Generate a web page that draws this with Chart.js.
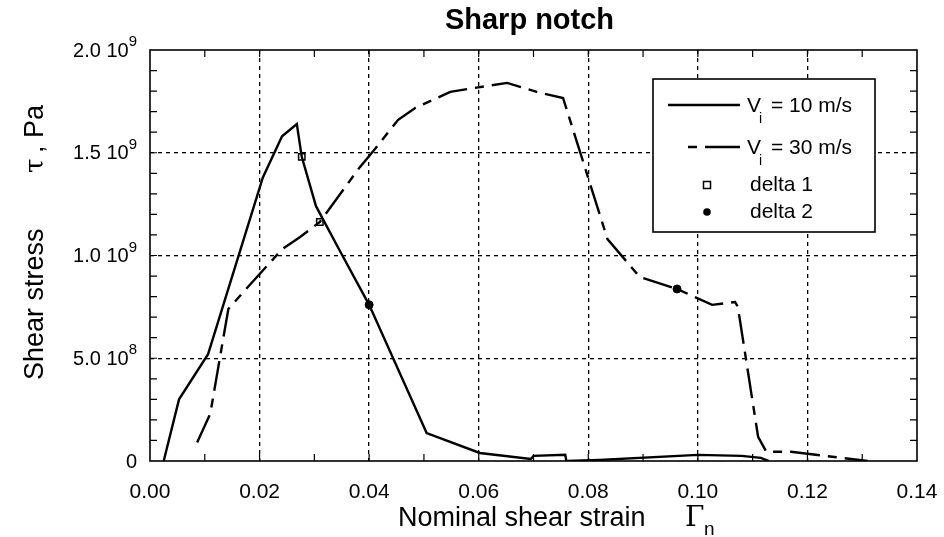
<!DOCTYPE html>
<html>
<head>
<meta charset="utf-8">
<script src="https://cdn.jsdelivr.net/npm/chart.js@4.4.1/dist/chart.umd.min.js"></script>
<style>
  html, body { margin: 0; padding: 0; background: #fff; }
  #wrap { width: 944px; height: 537px; }
</style>
</head>
<body>
<div id="wrap"><canvas id="chart"></canvas></div>
<script>
// V_i = 10 m/s
const strain10 = [0.0025, 0.0053, 0.0106, 0.0206, 0.0241, 0.0268, 0.0277, 0.0303, 0.0343, 0.0400,
                  0.0505, 0.0602, 0.0695, 0.0700, 0.0758, 0.0760, 0.0820, 0.1000, 0.1080, 0.1115, 0.1130];
const stress10 = [0, 0.30e9, 0.52e9, 1.38e9, 1.58e9, 1.64e9, 1.48e9, 1.24e9, 1.04e9, 0.76e9,
                  0.136e9, 0.039e9, 0.010e9, 0.025e9, 0.030e9, 0, 0.005e9, 0.030e9, 0.025e9, 0.015e9, 0];

// V_i = 30 m/s
const strain30 = [0.0086, 0.0110, 0.0143, 0.0173, 0.0241, 0.0274, 0.0310, 0.0383, 0.0402, 0.0453,
                  0.0484, 0.0548, 0.0579, 0.0652, 0.0706, 0.0754, 0.0835, 0.0894, 0.0962, 0.1026,
                  0.1068, 0.1073, 0.1110, 0.1125, 0.1170, 0.1200, 0.1310];
const stress30 = [0.09e9, 0.23e9, 0.74e9, 0.83e9, 1.03e9, 1.09e9, 1.163e9, 1.43e9, 1.49e9, 1.66e9,
                  1.718e9, 1.796e9, 1.81e9, 1.84e9, 1.796e9, 1.766e9, 1.08e9, 0.895e9, 0.837e9, 0.76e9,
                  0.774e9, 0.75e9, 0.117e9, 0.045e9, 0.045e9, 0.035e9, 0];

// delta markers
const delta1Strain = [0.0277, 0.0310];
const delta1Stress = [1.48e9, 1.163e9];
const delta2Strain = [0.0400, 0.0962];
const delta2Stress = [0.76e9, 0.837e9];

// axes
const xTickValues = [0, 0.02, 0.04, 0.06, 0.08, 0.10, 0.12, 0.14];
const xTickLabels = ['0.00', '0.02', '0.04', '0.06', '0.08', '0.10', '0.12', '0.14'];
const yTickValues = [0, 0.5e9, 1.0e9, 1.5e9, 2.0e9];
const yTickMantissa = ['0', '5.0', '1.0', '1.5', '2.0'];
const yTickExponent = ['', '8', '9', '9', '9'];

const FONT = '"Liberation Sans", Arial, Helvetica, sans-serif';
const SERIF = '"DejaVu Serif", "Liberation Serif", serif';
const DASH30 = [30, 8, 9, 8];

const toPoints = (xs, ys) => xs.map((v, i) => ({ x: v, y: ys[i] }));

function isInner(v, lo, hi) {
  return v > lo + 1e-12 && v < hi - 1e-12;
}

// frame, inward ticks, labels, titles and legend
const decorations = {
  id: 'decorations',
  afterDraw(chart) {
    const { ctx, chartArea: a, scales: { x, y } } = chart;
    ctx.save();
    ctx.strokeStyle = '#000';
    ctx.fillStyle = '#000';

    // minor ticks
    ctx.lineWidth = 1.2;
    ctx.beginPath();
    for (let i = 1; i < 14; i++) {
      const px = x.getPixelForValue(i / 100);
      ctx.moveTo(px, a.bottom); ctx.lineTo(px, a.bottom - 7);
      ctx.moveTo(px, a.top); ctx.lineTo(px, a.top + 7);
    }
    for (let i = 1; i < 20; i++) {
      const py = y.getPixelForValue(i * 1e8);
      ctx.moveTo(a.left, py); ctx.lineTo(a.left + 7, py);
      ctx.moveTo(a.right, py); ctx.lineTo(a.right - 7, py);
    }
    ctx.stroke();

    ctx.lineWidth = 1.6;
    ctx.strokeRect(a.left, a.top, a.right - a.left, a.bottom - a.top);

    // x tick labels
    ctx.font = '21px ' + FONT;
    ctx.textAlign = 'center';
    ctx.textBaseline = 'middle';
    xTickValues.forEach((v, i) => {
      ctx.fillText(xTickLabels[i], x.getPixelForValue(v), a.bottom + 31);
    });

    // y tick labels with power of ten
    yTickValues.forEach((v, i) => {
      const py = y.getPixelForValue(v);
      const right = a.left - 13;
      ctx.textAlign = 'left';
      ctx.textBaseline = 'middle';
      if (!yTickExponent[i]) {
        ctx.font = '20px ' + FONT;
        const w = ctx.measureText(yTickMantissa[i]).width;
        ctx.fillText(yTickMantissa[i], right - w, py + 1);
        return;
      }
      const base = yTickMantissa[i] + ' 10';
      ctx.font = '15px ' + FONT;
      const ew = ctx.measureText(yTickExponent[i]).width;
      ctx.font = '20px ' + FONT;
      const bw = ctx.measureText(base).width;
      const start = right - ew - bw;
      ctx.fillText(base, start, py + 1);
      ctx.font = '15px ' + FONT;
      ctx.fillText(yTickExponent[i], start + bw, py - 8);
    });

    // chart title
    ctx.font = 'bold 29px ' + FONT;
    ctx.textAlign = 'center';
    ctx.textBaseline = 'middle';
    ctx.fillText('Sharp notch', (a.left + a.right) / 2 - 4, 21);

    // x axis title
    ctx.font = '27px ' + FONT;
    ctx.textAlign = 'left';
    ctx.textBaseline = 'alphabetic';
    ctx.fillText('Nominal shear strain', 398, 526);
    ctx.font = '28px ' + SERIF;
    ctx.fillText('Γ', 685, 526);
    ctx.font = '19px ' + FONT;
    ctx.fillText('n', 704, 535);

    // y axis title
    ctx.save();
    ctx.translate(43, 380);
    ctx.rotate(-Math.PI / 2);
    ctx.font = '27px ' + FONT;
    ctx.textAlign = 'left';
    ctx.textBaseline = 'alphabetic';
    ctx.fillText('Shear stress', 0, 0);
    ctx.font = '26px ' + SERIF;
    ctx.fillText('τ', 207, 0);
    ctx.font = '27px ' + FONT;
    ctx.fillText(', Pa', 227, 0);
    ctx.restore();

    // legend
    const lx = 653, ly = 79, lw = 222, lh = 153;
    ctx.fillStyle = '#fff';
    ctx.fillRect(lx, ly, lw, lh);
    ctx.lineWidth = 1.6;
    ctx.strokeStyle = '#000';
    ctx.strokeRect(lx, ly, lw, lh);
    ctx.fillStyle = '#000';

    const rows = [105, 147, 185, 212];
    ctx.lineWidth = 2.4;
    ctx.beginPath();
    ctx.moveTo(668, rows[0]); ctx.lineTo(740, rows[0]);
    ctx.stroke();
    ctx.beginPath();
    ctx.moveTo(688, rows[1]); ctx.lineTo(697, rows[1]);
    ctx.moveTo(705, rows[1]); ctx.lineTo(740, rows[1]);
    ctx.stroke();

    ctx.lineWidth = 1.5;
    ctx.fillStyle = '#fff';
    ctx.fillRect(703.5, rows[2] - 3.5, 7, 7);
    ctx.strokeRect(703.5, rows[2] - 3.5, 7, 7);
    ctx.fillStyle = '#000';
    ctx.beginPath();
    ctx.arc(707, rows[3], 3.8, 0, Math.PI * 2);
    ctx.fill();

    const speeds = ['= 10 m/s', '= 30 m/s'];
    speeds.forEach((s, i) => {
      ctx.font = '21px ' + FONT;
      ctx.textAlign = 'left';
      ctx.textBaseline = 'middle';
      ctx.fillText('V', 747, rows[i] + 1);
      ctx.font = '14px ' + FONT;
      ctx.fillText('i', 759, rows[i] + 14);
      ctx.font = '21px ' + FONT;
      ctx.fillText(s, 771, rows[i] + 1);
    });
    ctx.font = '21px ' + FONT;
    ctx.fillText('delta 1', 750, rows[2]);
    ctx.fillText('delta 2', 750, rows[3]);

    ctx.restore();
  }
};

const gridColor = (lo, hi) => (c) => (c.tick && isInner(c.tick.value, lo, hi)) ? '#000' : 'rgba(0,0,0,0)';

new Chart(document.getElementById('chart'), {
  type: 'line',
  data: {
    datasets: [
      {
        label: 'V_i = 10 m/s',
        data: toPoints(strain10, stress10),
        borderColor: '#000',
        borderWidth: 2.4,
        pointRadius: 0,
        tension: 0,
        fill: false
      },
      {
        label: 'V_i = 30 m/s',
        data: toPoints(strain30, stress30),
        borderColor: '#000',
        borderWidth: 2.4,
        borderDash: DASH30,
        pointRadius: 0,
        tension: 0,
        fill: false
      },
      {
        label: 'delta 1',
        data: toPoints(delta1Strain, delta1Stress),
        showLine: false,
        pointStyle: 'rect',
        pointRadius: 4.5,
        pointBackgroundColor: '#fff',
        pointBorderColor: '#000',
        pointBorderWidth: 1.5
      },
      {
        label: 'delta 2',
        data: toPoints(delta2Strain, delta2Stress),
        showLine: false,
        pointStyle: 'circle',
        pointRadius: 4,
        pointBackgroundColor: '#000',
        pointBorderColor: '#000',
        pointBorderWidth: 1
      }
    ]
  },
  options: {
    responsive: true,
    maintainAspectRatio: false,
    animation: false,
    layout: { padding: { left: 150, right: 27, top: 50, bottom: 76 } },
    plugins: {
      legend: { display: false },
      tooltip: { enabled: false },
      title: { display: false }
    },
    scales: {
      x: {
        type: 'linear',
        min: 0,
        max: 0.14,
        ticks: { display: false, stepSize: 0.02 },
        grid: { drawTicks: false, color: gridColor(0, 0.14), lineWidth: 1.3 },
        border: { display: false, dash: [4, 4] }
      },
      y: {
        type: 'linear',
        min: 0,
        max: 2e9,
        ticks: { display: false, stepSize: 5e8 },
        grid: { drawTicks: false, color: gridColor(0, 2e9), lineWidth: 1.3 },
        border: { display: false, dash: [4, 4] }
      }
    }
  },
  plugins: [decorations]
});
</script>
</body>
</html>
